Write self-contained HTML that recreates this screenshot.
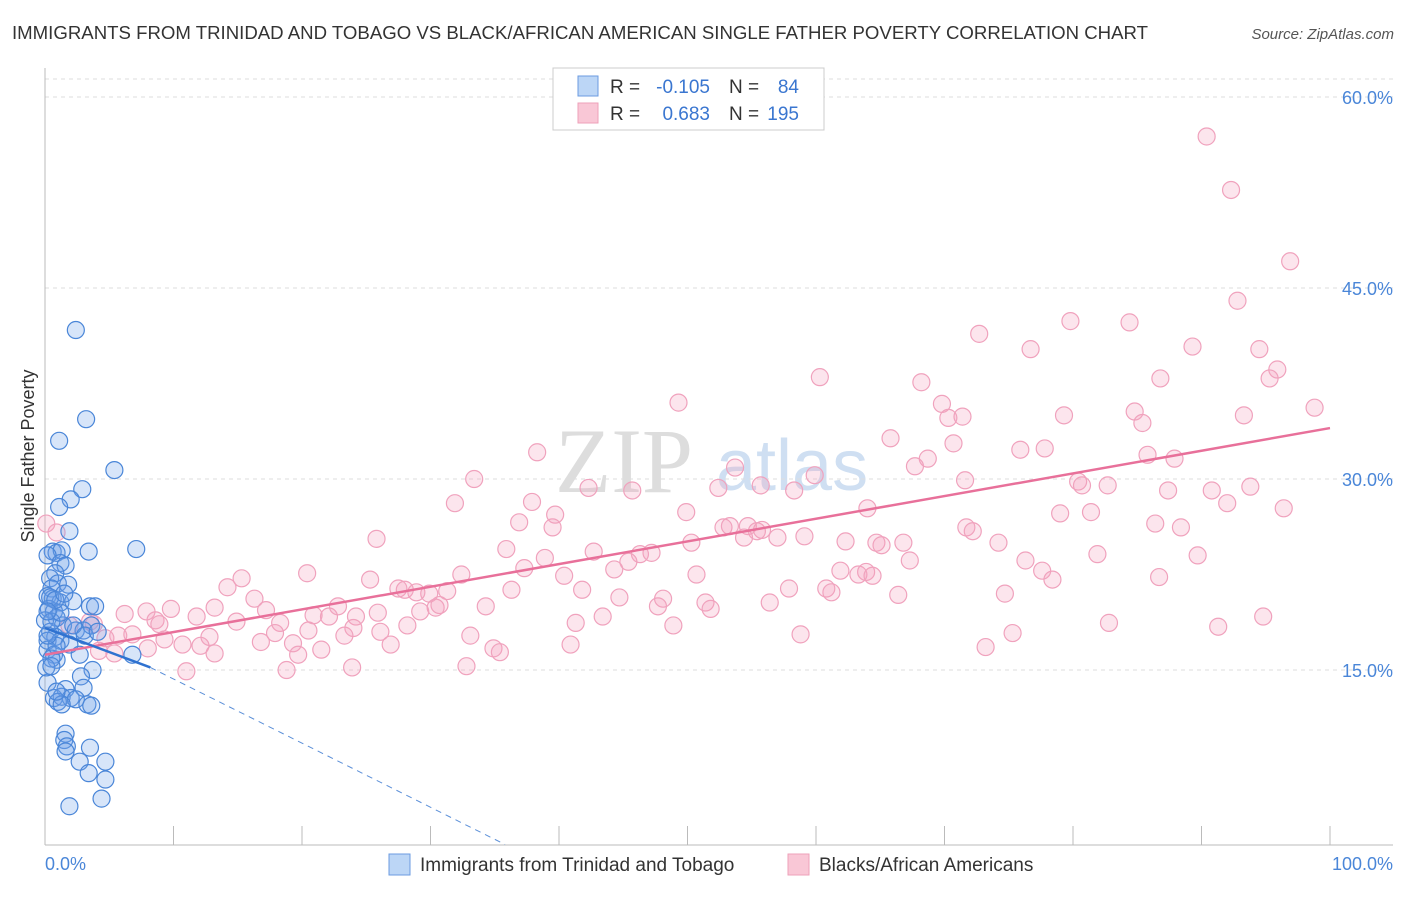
<!DOCTYPE html>
<html><head><meta charset="utf-8"><style>
body{margin:0;background:#fff;font-family:"Liberation Sans",sans-serif;}
</style></head><body>
<svg width="1406" height="892" xmlns="http://www.w3.org/2000/svg">
<text x="12" y="39" font-size="18" fill="#333" textLength="1136" lengthAdjust="spacingAndGlyphs">IMMIGRANTS FROM TRINIDAD AND TOBAGO VS BLACK/AFRICAN AMERICAN SINGLE FATHER POVERTY CORRELATION CHART</text>
<text x="1394" y="39" font-size="15" fill="#555" font-style="italic" text-anchor="end">Source: ZipAtlas.com</text>
<text x="555" y="492" font-size="92" fill="#ddd" font-family="Liberation Serif,serif">ZIP</text>
<text x="716" y="490" font-size="72" fill="#cfdff2">atlas</text>
<g id="grid"></g>
<g id="axes"></g>
<g id="marks"></g>
<text x="34" y="456" font-size="18" fill="#333" text-anchor="middle" transform="rotate(-90 34 456)">Single Father Poverty</text>
<text x="45" y="870" font-size="18" fill="#4a86d8">0.0%</text>
<text x="1393" y="870" font-size="18" fill="#4a86d8" text-anchor="end">100.0%</text>
<g>
<rect x="553" y="68" width="271" height="62" fill="#fff" stroke="#ccc"/>
<rect x="578" y="76" width="20" height="20" fill="#bcd6f6" stroke="#6b9be0"/>
<rect x="578" y="103" width="20" height="20" fill="#f9c7d6" stroke="#eea1b9"/>
<text x="610" y="93" font-size="19" fill="#333">R =</text>
<text x="710" y="93" font-size="19" fill="#3a76d0" text-anchor="end">-0.105</text>
<text x="729" y="93" font-size="19" fill="#333">N =</text>
<text x="799" y="93" font-size="19" fill="#3a76d0" text-anchor="end">84</text>
<text x="610" y="120" font-size="19" fill="#333">R =</text>
<text x="710" y="120" font-size="19" fill="#3a76d0" text-anchor="end">0.683</text>
<text x="729" y="120" font-size="19" fill="#333">N =</text>
<text x="799" y="120" font-size="19" fill="#3a76d0" text-anchor="end">195</text>
</g>
<g>
<rect x="389" y="854" width="21" height="21" fill="#bcd6f6" stroke="#6b9be0"/>
<text x="420" y="871" font-size="19" fill="#333">Immigrants from Trinidad and Tobago</text>
<rect x="788" y="854" width="21" height="21" fill="#f9c7d6" stroke="#eea1b9"/>
<text x="819" y="871" font-size="19" fill="#333">Blacks/African Americans</text>
</g>
</svg>
<script>
const yTicks=[15,30,45,60];
const xTickCount=10;
const pinkX=[90.4,92.3,96.9,92.8,72.7,79.8,84.4,76.7,89.3,94.5,86.8,95.9,95.3,68.2,60.3,49.3,69.8,70.3,71.4,98.8,79.3,84.8,85.4,93.3,65.8,70.7,38.3,75.9,77.8,85.8,87.9,68.7,67.7,53.7,59.9,80.4,82.7,80.7,33.4,42.3,45.7,52.4,55.7,58.3,71.6,87.4,90.8,93.8,92.0,96.4,31.9,37.9,39.7,49.9,64.0,79.0,81.4,36.9,39.5,52.8,53.3,54.7,55.4,54.4,55.8,57.0,59.1,71.7,72.2,86.4,88.4,25.8,50.3,62.3,64.7,65.1,66.8,74.2,81.9,89.7,35.9,42.7,46.3,47.2,38.9,37.3,44.3,45.4,67.3,76.3,77.6,78.4,86.7,15.3,20.4,25.3,32.4,40.4,50.7,61.9,63.3,63.9,64.4,14.2,27.5,28.0,28.9,29.9,31.3,36.3,41.8,44.7,48.1,57.9,60.8,61.2,66.4,74.7,16.3,17.2,22.8,6.2,7.9,9.8,13.2,11.8,20.9,22.1,24.2,25.9,29.2,30.4,30.7,34.3,47.7,56.4,51.4,51.8,43.4,3.5,3.8,8.6,8.9,14.9,18.3,20.5,24.0,26.1,28.2,41.3,48.9,82.8,91.3,94.8,4.7,5.7,6.8,9.3,10.7,12.1,12.8,16.8,17.9,19.3,23.3,26.9,33.1,40.9,58.8,75.3,5.4,4.2,8.0,13.2,19.7,21.5,34.9,35.4,73.2,11.0,18.8,23.9,32.8,0.1,0.9,1.9];
const pinkY=[56.9,52.7,47.1,44.0,41.4,42.4,42.3,40.2,40.4,40.2,37.9,38.6,37.9,37.6,38.0,36.0,35.9,34.8,34.9,35.6,35.0,35.3,34.4,35.0,33.2,32.8,32.1,32.3,32.4,31.9,31.6,31.6,31.0,30.9,30.3,29.8,29.5,29.5,30.0,29.3,29.1,29.3,29.5,29.1,29.9,29.1,29.1,29.4,28.1,27.7,28.1,28.2,27.2,27.4,27.7,27.3,27.4,26.6,26.2,26.2,26.3,26.3,25.9,25.4,26.0,25.4,25.5,26.2,25.9,26.5,26.2,25.3,25.0,25.1,25.0,24.8,25.0,25.0,24.1,24.0,24.5,24.3,24.1,24.2,23.8,23.0,22.9,23.5,23.6,23.6,22.8,22.1,22.3,22.2,22.6,22.1,22.5,22.4,22.5,22.8,22.5,22.7,22.4,21.5,21.4,21.3,21.1,21.0,21.2,21.3,21.3,20.7,20.6,21.4,21.4,21.1,20.9,21.0,20.6,19.7,20.0,19.4,19.6,19.8,19.9,19.2,19.3,19.2,19.2,19.5,19.6,19.9,20.1,20.0,20.0,20.3,20.3,19.8,19.2,18.8,18.6,18.9,18.6,18.8,18.7,18.1,18.3,18.0,18.5,18.7,18.5,18.7,18.4,19.2,17.5,17.7,17.8,17.4,17.0,16.9,17.6,17.2,17.9,17.1,17.7,17.0,17.7,17.0,17.8,17.9,16.3,16.5,16.7,16.3,16.2,16.6,16.7,16.4,16.8,14.9,15.0,15.2,15.3,26.5,25.8,18.5];
const blueX=[2.4,3.2,1.1,5.4,2.9,2.0,1.1,1.9,7.1,3.4,0.6,0.9,1.3,0.2,1.2,1.6,0.8,0.4,1.0,1.8,0.5,0.2,0.6,1.2,2.2,3.5,3.9,0.3,0.7,0.9,0.0,1.4,2.4,3.0,3.6,0.4,0.8,0.2,1.2,1.9,0.2,0.7,0.9,0.5,2.7,6.8,3.7,2.8,0.2,3.0,1.6,0.7,1.3,2.0,2.4,1.0,3.3,3.6,1.3,1.6,1.5,1.7,1.6,3.5,2.7,4.7,3.4,4.7,1.9,4.4,0.4,0.5,0.9,0.1,1.2,0.2,2.2,0.8,0.2,1.5,0.5,0.9,3.1,4.1];
const blueY=[41.7,34.7,33.0,30.7,29.2,28.4,27.8,25.9,24.5,24.3,24.3,24.2,24.4,24.0,23.4,23.2,22.6,22.2,21.8,21.7,21.4,20.8,20.6,20.3,20.4,20.0,20.0,19.8,19.6,19.1,18.9,18.5,18.1,18.1,18.5,18.0,17.6,17.3,17.3,17.0,16.6,16.2,15.8,15.9,16.2,16.2,15.0,14.5,14.0,13.6,13.5,12.8,12.9,12.8,12.7,12.5,12.3,12.2,12.3,10.0,9.5,9.0,8.6,8.9,7.8,7.8,6.9,6.4,4.3,4.9,20.7,18.8,16.9,15.2,19.5,17.7,18.5,20.5,19.6,21.0,15.3,13.3,17.7,18.0];
const pinkFit=[16.2,34.0];
const blueFit=[18.3,15.2,8.2];
const blueDashEnd=[35.8,1.3];
const NS="http://www.w3.org/2000/svg";
const X=v=>45+v*12.85, Y=v=>861-v*12.733;
function mk(p,tag,a){const e=document.createElementNS(NS,tag);for(const k in a)e.setAttribute(k,a[k]);p.appendChild(e);return e;}
const gridG=document.getElementById('grid'),axesG=document.getElementById('axes'),marksG=document.getElementById('marks');
const topLine=mk(gridG,'line',{x1:45,x2:1393,y1:79,y2:79,stroke:'#ddd','stroke-dasharray':'4 4'});


yTicks.forEach(t=>{
 const l=mk(gridG,'line',{x1:45,x2:1393,y1:Y(t),y2:Y(t),stroke:'#ddd','stroke-dasharray':'4 4'});
 
 
 const tx=mk(gridG,'text',{x:1393,y:Y(t)+7,'font-size':18,fill:'#4a86d8','text-anchor':'end'});
 tx.textContent=t.toFixed(1)+'%';
 
 
});
const ya=mk(axesG,'line',{x1:45,x2:45,y1:68,y2:845,stroke:'#bbb'});


const xa=mk(axesG,'line',{x1:45,x2:1393,y1:845,y2:845,stroke:'#bbb'});


for(let i=0;i<=xTickCount;i++){
 const v=i*100/xTickCount;
 const t=mk(axesG,'line',{x1:X(v),x2:X(v),y1:826,y2:845,stroke:'#bbb'});
 
 
}
pinkX.forEach((x,i)=>{
 const c=mk(marksG,'circle',{cx:X(x),cy:Y(pinkY[i]),r:8.5,fill:'rgba(244,160,190,0.28)',stroke:'#f0a2bd','stroke-width':1.2});
 
 
});
blueX.forEach((x,i)=>{
 const c=mk(marksG,'circle',{cx:X(x),cy:Y(blueY[i]),r:8.5,fill:'rgba(110,160,235,0.28)',stroke:'#4a86d8','stroke-width':1.2});
 
 
});
const pl=mk(marksG,'line',{x1:X(0),y1:Y(pinkFit[0]),x2:X(100),y2:Y(pinkFit[1]),stroke:'#e8709a','stroke-width':2.5});


const bl=mk(marksG,'line',{x1:X(0),y1:Y(blueFit[0]),x2:X(blueFit[2]),y2:Y(blueFit[1]),stroke:'#2f72d0','stroke-width':2.5});


const bd=mk(marksG,'line',{x1:X(blueFit[2]),y1:Y(blueFit[1]),x2:X(blueDashEnd[0]),y2:Y(blueDashEnd[1]),stroke:'#5b8fd8','stroke-width':1,'stroke-dasharray':'6 5'});


</script>
</body></html>
